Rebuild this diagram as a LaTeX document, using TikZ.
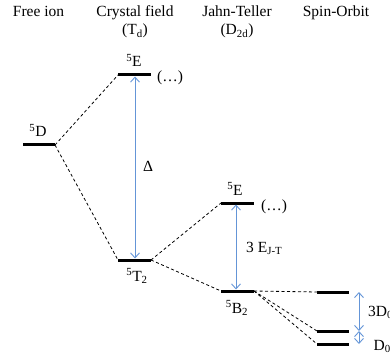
\documentclass[tikz,border=0pt]{standalone}
\usepackage{fontspec}
\setmainfont{Liberation Serif}
\usetikzlibrary{arrows.meta}
\definecolor{arrblue}{RGB}{100,149,215}
\tikzset{
  level/.style={line width=3pt},
  conn/.style={dashed, dash pattern=on 3pt off 2.5pt, line width=0.8pt},
  gap/.style={arrblue, line width=0.9pt, {Straight Barb[length=5pt,width=9pt]}-{Straight Barb[length=5pt,width=9pt]}},
  lab/.style={inner sep=0pt, anchor=base, font=\fontsize{15.5}{18}\selectfont},
}
\begin{document}
\begin{tikzpicture}[x=1pt,y=-1pt]
\useasboundingbox (0,0) rectangle (390,358);
\clip (0,0) rectangle (390,358);
% headers
\node[lab, align=center] (h1) at (38.5,17) {Free ion};
\node[lab] (h2) at (135,17) {Crystal field};
\node[lab] (h2b) at (135,35) {(T\textsubscript{d})};
\node[lab] (h3) at (237,17) {Jahn-Teller};
\node[lab] (h3b) at (237,35) {(D\textsubscript{2d})};
\node[lab] (h4) at (336,17) {Spin-Orbit};
% level end points
\coordinate (DL) at (23,145); \coordinate (DR) at (55,145);
\coordinate (EL) at (118,75); \coordinate (ER) at (151,75);
\coordinate (TL) at (118,260); \coordinate (TR) at (151,260);
\coordinate (JL) at (221,203); \coordinate (JR) at (254,203);
\coordinate (BL) at (221,291); \coordinate (BR) at (254,291);
\coordinate (S1L) at (317,292); \coordinate (S1R) at (349,292);
\coordinate (S2L) at (317,331); \coordinate (S2R) at (349,331);
\coordinate (S3L) at (317,344); \coordinate (S3R) at (349,344);
% dashed connectors
\draw[conn] (DR) -- (EL);
\draw[conn] (DR) -- (TL);
\draw[conn] (TR) -- (JL);
\draw[conn] (TR) -- (BL);
\draw[conn] (BR) -- (S1L);
\draw[conn] (BR) -- (S2L);
\draw[conn] (BR) -- (S3L);
% levels
\draw[level] (DL) -- (DR);
\draw[level] (EL) -- (ER);
\draw[level] (TL) -- (TR);
\draw[level] (JL) -- (JR);
\draw[level] (BL) -- (BR);
\draw[level] (S1L) -- (S1R);
\draw[level] (S2L) -- (S2R);
\draw[level] (S3L) -- (S3R);
% gap arrows
\coordinate (a1t) at (135,76.5); \coordinate (a1b) at (135,258.5);
\coordinate (a2t) at (236,204.5); \coordinate (a2b) at (236,289.5);
\coordinate (a3t) at (359,292); \coordinate (a3b) at (359,331);
\coordinate (a4t) at (359,331); \coordinate (a4b) at (359,344);
\draw[gap] (a1t) -- (a1b);
\draw[gap] (a2t) -- (a2b);
\draw[gap] (a3t) -- (a3b);
\draw[gap] (a4t) -- (a4b);
% labels
\node[lab] (lD) at (38,137) {\textsuperscript{5}D};
\node[lab] (lE) at (134,67) {\textsuperscript{5}E};
\node[lab] (lEd) at (170,82) {(\ldots)};
\node[lab] (lT) at (137,281) {\textsuperscript{5}T\textsubscript{2}};
\node[lab] (lJ) at (235,195) {\textsuperscript{5}E};
\node[lab] (lJd) at (274,210) {(\ldots)};
\node[lab] (lB) at (237,313) {\textsuperscript{5}B\textsubscript{2}};
\node[lab] (ldelta) at (148,171) {Δ};
\node[lab, anchor=base west] (lJT) at (246,252) {3 E\textsubscript{J-T}};
\node[lab, anchor=base west] (l3D) at (368,316) {3D\textsubscript{0}};
\node[lab, anchor=base west] (lD0) at (373.5,350) {D\textsubscript{0}};
\end{tikzpicture}
\end{document}
